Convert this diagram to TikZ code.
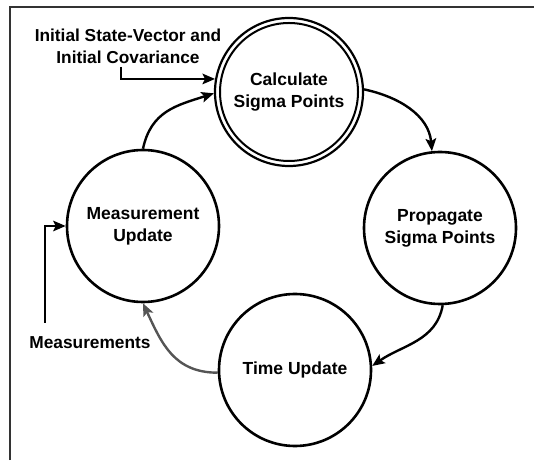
\documentclass[tikz,border=0pt]{standalone}
\usepackage{fontspec}
\setmainfont{Liberation Sans}
\usetikzlibrary{arrows.meta}
\definecolor{backflow}{HTML}{555555}
\definecolor{framegray}{HTML}{333333}
\begin{document}
\begin{tikzpicture}[x=1pt,y=1pt,
  state/.style={circle, draw, line width=2.6pt, minimum size=152pt, inner sep=0pt,
    align=center, font=\fontsize{17.5}{22}\selectfont\bfseries},
  ring/.style={circle, draw, line width=2pt, inner sep=0pt},
  flow/.style={line width=2.4pt, -{Stealth[length=12.5pt,width=10.5pt,inset=2.5pt]}},
  lbl/.style={align=center, inner sep=0pt, font=\fontsize{17.3}{22}\selectfont\bfseries}]
\useasboundingbox (0,0) rectangle (534,460);

% frame
\draw[line width=1.3pt, framegray] (10,0) -- (10,453) -- (534,453);

% states of the filter loop
\node[state, line width=2.2pt, minimum size=148pt] (csp) at (289,368) {Calculate\\Sigma Points};
\node[ring, minimum size=138pt] (cspin) at (csp.center) {};
\node[state] (psp) at (440,232) {Propagate\\Sigma Points};
\node[state] (tu)  at (295,90)  {Time Update};
\node[state] (mu)  at (143,234) {Measurement\\Update};

% external inputs
\node[lbl] (init) at (128,414) {Initial State-Vector and\\Initial Covariance};
\node[lbl] (meas) at (90,117) {Measurements};
\coordinate (init0) at (121,393);
\coordinate (meas0) at (45,137);

% connectors
\draw[flow] (init0) |- (csp.170);
\draw[flow] (meas0) |- (mu.west);
\draw[flow] (mu.north) to[out=78, in=198, looseness=1.1] (csp.181);
\draw[flow] (csp.2) to[out=-12, in=95] (psp.96);
\draw[flow] (psp.272) to[out=-100, in=35] (tu.3);
\draw[flow, backflow] (tu.182) to[out=180, in=-65, looseness=1.1] (mu.270);
\end{tikzpicture}
\end{document}
